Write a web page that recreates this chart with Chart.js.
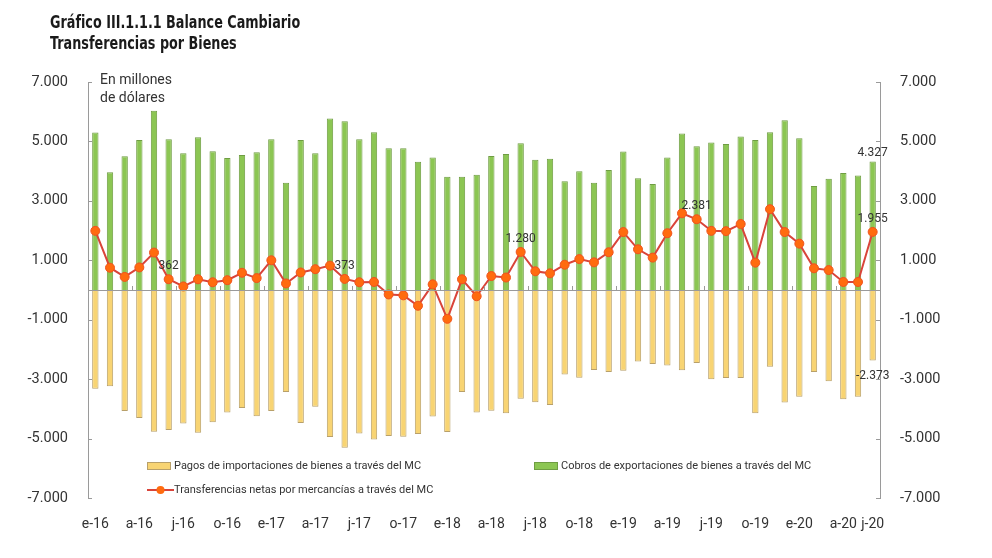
<!DOCTYPE html>
<html lang="es">
<head>
    <meta charset="UTF-8">
    <title>Balance Cambiario</title>
    <script src="https://cdn.jsdelivr.net/npm/chart.js"></script>
    <style>
        body { margin:0; background:#fff; }
        #wrap { position:relative; width:992px; height:558px; font-family:Roboto, sans-serif; color:#333; }
        #titulo { position:absolute; left:50px; top:11px; font-family:'DejaVu Sans',sans-serif; font-weight:bold; font-size:18px; line-height:21px; color:#1a1a1a; transform:scaleX(0.71); transform-origin:left top; white-space:nowrap; }
        #unidad { position:absolute; left:100px; top:70px; font-size:14px; line-height:18px; color:#333; }
        .ley { position:absolute; font-size:11px; color:#333; white-space:nowrap; display:flex; align-items:center; }
        .caja { display:inline-block; width:24px; height:8px; margin-right:3px; box-sizing:border-box; }
        canvas { position:absolute; left:0; top:0; }
    </style>
</head>
<body>
<div id="wrap">
    <canvas id="myChart" width="992" height="558"></canvas>
    <div id="titulo">Gráfico III.1.1.1 Balance Cambiario<br>Transferencias por Bienes</div>
    <div id="unidad">En millones<br>de dólares</div>
    <div id="leyenda"></div>
</div>

<script>
    // meses (ene-16 a jun-20)
    const meses = [
        'e-16','f-16','m-16','a-16','m-16','j-16','j-16','a-16','s-16','o-16','n-16','d-16',
        'e-17','f-17','m-17','a-17','m-17','j-17','j-17','a-17','s-17','o-17','n-17','d-17',
        'e-18','f-18','m-18','a-18','m-18','j-18','j-18','a-18','s-18','o-18','n-18','d-18',
        'e-19','f-19','m-19','a-19','m-19','j-19','j-19','a-19','s-19','o-19','n-19','d-19',
        'e-20','f-20','m-20','a-20','m-20','j-20'
    ];

    // cobros de exportaciones
    const cobros = [
        5300,3960,4500,5050,6030,5070,4600,5140,4670,4440,4540,4640,
        5070,3610,5050,4600,5770,5680,5070,5310,4770,4770,4320,4460,
        3810,3810,3880,4510,4580,4940,4380,4420,3660,4000,3610,4040,
        4660,3760,3570,4460,5270,4840,4960,4910,5170,5050,5310,5710,
        5110,3500,3740,3940,3850,4327
    ];

    // pagos de importaciones
    const pagos = [
        -3320,-3240,-4070,-4310,-4770,-4710,-4490,-4800,-4450,-4120,-3970,-4250,
        -4070,-3430,-4480,-3930,-4950,-5310,-4830,-5030,-4910,-4940,-4850,-4260,
        -4780,-3430,-4120,-4060,-4150,-3660,-3780,-3870,-2840,-2950,-2690,-2760,
        -2720,-2410,-2490,-2540,-2700,-2460,-3000,-2960,-2960,-4150,-2580,-3790,
        -3590,-2760,-3070,-3680,-3590,-2373
    ];

    // transferencias netas
    const netas = [
        1990,750,440,760,1260,362,120,360,260,330,580,400,
        1000,220,590,700,820,373,260,270,-150,-180,-530,190,
        -970,360,-210,470,420,1280,630,560,850,1040,930,1270,
        1950,1370,1090,1910,2580,2381,1990,1980,2220,920,2720,1950,
        1560,730,670,270,270,1955
    ];

    // puntos con etiqueta (junio de cada año)
    const etiqNetas = [5,17,29,41,53];
    const ultimo = meses.length - 1;

    const fmt = v => (v < 0 ? '-' : '') + String(Math.abs(v)).replace(/\B(?=(\d{3})+(?!\d))/g, '.');

    const verde = '#8cc653', verdeBorde = '#6f9d43';
    const amarillo = '#f8d473', amarilloBorde = '#b8a06a';
    const rojo = '#d9443a', naranja = '#ff6b0f';

    //etiquetas y lineas extra
    const extras = {
        id: 'extras',
        afterDatasetsDraw(chart) {
            const ctx = chart.ctx;
            const area = chart.chartArea;
            const x = chart.scales.x, y = chart.scales.y;
            ctx.save();
            // linea del cero
            const y0 = y.getPixelForValue(0);
            ctx.strokeStyle = '#9a9a9a';
            ctx.lineWidth = 1;
            ctx.beginPath();
            ctx.moveTo(area.left, y0 + 0.5);
            ctx.lineTo(area.right, y0 + 0.5);
            for (let i = 3; i < meses.length; i += 3) {
                const xb = Math.round((x.getPixelForValue(i) + x.getPixelForValue(i - 1)) / 2) + 0.5;
                ctx.moveTo(xb, y0);
                ctx.lineTo(xb, y0 - 4);
            }
            // marcas de los ejes
            y.ticks.forEach(t => {
                const py = Math.round(y.getPixelForValue(t.value)) + 0.5;
                ctx.moveTo(area.left, py); ctx.lineTo(area.left + 4, py);
                ctx.moveTo(area.right - 4, py); ctx.lineTo(area.right, py);
            });
            ctx.stroke();

            ctx.fillStyle = '#333';
            ctx.font = '12px Roboto';
            ctx.textAlign = 'center';
            const mLinea = chart.getDatasetMeta(0);
            ctx.textBaseline = 'bottom';
            etiqNetas.forEach(i => {
                const p = mLinea.data[i];
                ctx.fillText(fmt(netas[i]), p.x, p.y - 7);
            });
            const mCobros = chart.getDatasetMeta(2);
            const b = mCobros.data[ultimo];
            ctx.fillText(fmt(cobros[ultimo]), b.x, b.y - 2);
            const mPagos = chart.getDatasetMeta(1);
            const c = mPagos.data[ultimo];
            ctx.textBaseline = 'top';
            ctx.fillText(fmt(pagos[ultimo]), c.x, c.y + 9);
            ctx.restore();
        }
    };

    const data = {
        labels: meses,
        datasets: [
            {
                type: 'line',
                label: 'Transferencias netas por mercancías a través del MC',
                data: netas,
                borderColor: rojo,
                borderWidth: 2,
                pointBackgroundColor: naranja,
                pointBorderColor: '#f0521e',
                pointBorderWidth: 1,
                pointRadius: 4.5,
                tension: 0,
                order: 0
            },
            {
                label: 'Pagos de importaciones de bienes a través del MC',
                data: pagos,
                backgroundColor: amarillo,
                borderColor: amarilloBorde,
                borderWidth: 1,
                categoryPercentage: 0.9,
                barPercentage: 0.48,
                order: 1
            },
            {
                label: 'Cobros de exportaciones de bienes a través del MC',
                data: cobros,
                backgroundColor: verde,
                borderColor: verdeBorde,
                borderWidth: 1,
                categoryPercentage: 0.9,
                barPercentage: 0.48,
                order: 2
            }
        ]
    };

    const ejeY = (pos, ancho) => ({
        position: pos,
        min: -7000,
        max: 7000,
        afterFit: s => { s.width = ancho; },
        grid: { display: false },
        border: { display: true, color: '#9a9a9a', width: 1 },
        ticks: {
            stepSize: 2000,
            padding: 12,
            color: '#333',
            font: { family: 'Roboto', size: 14.5 },
            callback: v => fmt(v)
        }
    });

    const options = {
        responsive: false,
        animation: false,
        layout: { padding: { top: 82, right: 0, bottom: 0, left: 0 } },
        plugins: { legend: { display: false }, tooltip: { enabled: false } },
        scales: {
            x: {
                stacked: true,
                afterFit: s => { s.height = 60; },
                grid: { display: false },
                border: { display: false },
                ticks: {
                    autoSkip: false,
                    maxRotation: 0,
                    padding: 10,
                    color: '#333',
                    font: { family: 'Roboto', size: 14 },
                    callback: (v, i) => (i % 3 === 0 || i === ultimo) ? meses[i] : ''
                }
            },
            y: ejeY('left', 88),
            y2: ejeY('right', 112)
        }
    };

    const ctx = document.querySelector('#myChart').getContext('2d');
    const myChart = new Chart(ctx, { type: 'bar', data: data, options: options, plugins: [extras] });

    // leyenda dentro del grafico
    const ley = document.querySelector('#leyenda');
    const items = [
        { ds: data.datasets[1], left: 147, top: 459 },
        { ds: data.datasets[2], left: 534, top: 459 },
        { ds: data.datasets[0], left: 147, top: 483 }
    ];
    items.forEach(it => {
        const d = document.createElement('div');
        d.className = 'ley';
        d.style.left = it.left + 'px';
        d.style.top = it.top + 'px';
        let marca;
        if (it.ds.type === 'line') {
            marca = '<svg width="27" height="12"><line x1="0" y1="6" x2="27" y2="6" stroke="' + rojo + '" stroke-width="2"/><circle cx="13.5" cy="6" r="4" fill="' + naranja + '"/></svg>';
        } else {
            marca = '<span class="caja" style="background:' + it.ds.backgroundColor + ';border:1px solid ' + it.ds.borderColor + '"></span>';
        }
        d.innerHTML = marca + '<span>' + it.ds.label + '</span>';
        ley.appendChild(d);
    });
</script>
</body>
</html>
